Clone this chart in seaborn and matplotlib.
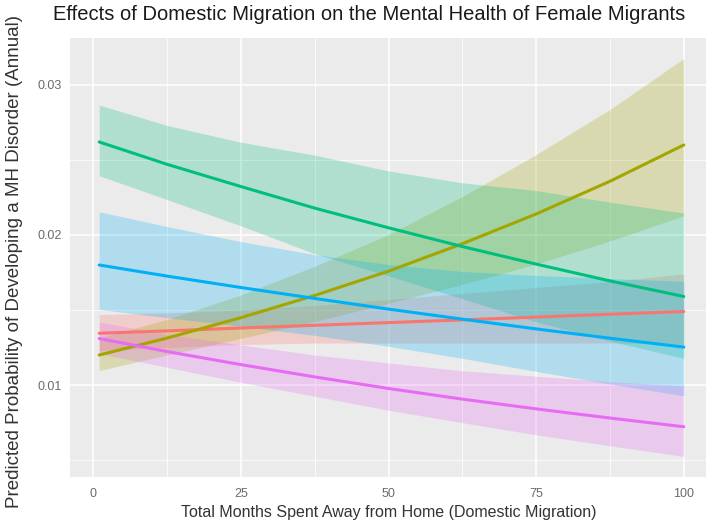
import numpy as np
import pandas as pd
import matplotlib
matplotlib.use("Agg")
import matplotlib.pyplot as plt
import seaborn as sns
from matplotlib.ticker import MultipleLocator

# Months away from home at which predictions are evaluated
months = [1, 12.5, 25, 37.5, 50, 62.5, 75, 87.5, 100]

# Predicted probability (line) with lower/upper confidence bounds per group
groups = ["1", "2", "3", "4", "5"]
colors = ["#F8766D", "#A3A500", "#00BF7D", "#00B0F6", "#E76BF3"]

pred_1 = [0.01345, 0.01361, 0.0138, 0.01398, 0.01416, 0.01434, 0.01453, 0.01472, 0.0149]
lo_1 = [0.0123, 0.0125, 0.0127, 0.0128, 0.0128, 0.0128, 0.0128, 0.0128, 0.0127]
hi_1 = [0.0147, 0.0148, 0.0150, 0.0153, 0.0157, 0.0161, 0.0165, 0.0169, 0.0174]

pred_2 = [0.0120, 0.01313, 0.01449, 0.01597, 0.01759, 0.01942, 0.0214, 0.02358, 0.0260]
lo_2 = [0.01097, 0.0120, 0.01311, 0.01423, 0.01545, 0.01671, 0.01806, 0.0196, 0.02129]
hi_2 = [0.01313, 0.01437, 0.01601, 0.01792, 0.02003, 0.02256, 0.02536, 0.02837, 0.03176]

pred_3 = [0.0262, 0.02471, 0.02323, 0.02179, 0.02048, 0.01923, 0.01806, 0.01694, 0.0159]
lo_3 = [0.02395, 0.02236, 0.02061, 0.01875, 0.01728, 0.01575, 0.01421, 0.01293, 0.01178]
hi_3 = [0.02866, 0.0273, 0.02618, 0.02532, 0.02427, 0.02348, 0.02296, 0.02219, 0.02146]

pred_4 = [0.0180, 0.01726, 0.0165, 0.01577, 0.01506, 0.01439, 0.01374, 0.01312, 0.01253]
lo_4 = [0.01504, 0.01449, 0.01392, 0.01331, 0.01258, 0.01178, 0.01091, 0.01007, 0.00928]
hi_4 = [0.02155, 0.02056, 0.01956, 0.01869, 0.01803, 0.01757, 0.0173, 0.0171, 0.01691]

pred_5 = [0.0131, 0.01223, 0.01136, 0.01054, 0.00977, 0.00906, 0.00841, 0.0078, 0.00722]
lo_5 = [0.01209, 0.01118, 0.01018, 0.00925, 0.00832, 0.00749, 0.00668, 0.00595, 0.00524]
hi_5 = [0.01419, 0.01338, 0.01268, 0.0120, 0.01147, 0.01095, 0.01059, 0.01022, 0.00994]

preds = [pred_1, pred_2, pred_3, pred_4, pred_5]
los = [lo_1, lo_2, lo_3, lo_4, lo_5]
his = [hi_1, hi_2, hi_3, hi_4, hi_5]

xticks = [0, 25, 50, 75, 100]
yticks = [0.01, 0.02, 0.03]

rows = []
for g, p, lo, hi in zip(groups, preds, los, his):
    for m, pv, lv, hv in zip(months, p, lo, hi):
        rows.append({"months": m, "prob": pv, "lo": lv, "hi": hv, "group": g})
df = pd.DataFrame(rows)

sns.set_theme(style="darkgrid", rc={
    "axes.facecolor": "#EBEBEB",
    "grid.color": "white",
})
plt.rcParams["font.family"] = ["Liberation Sans", "DejaVu Sans"]

fig = plt.figure(figsize=(7.06, 5.32), dpi=100)
ax = fig.add_axes([70 / 706, 1 - 477 / 532, 643 / 706, 439 / 532])

palette = dict(zip(groups, colors))

# confidence ribbons first, then the fitted lines on top
for g in groups:
    sub = df[df["group"] == g]
    ax.fill_between(sub["months"], sub["lo"], sub["hi"],
                    color=palette[g], alpha=0.25, linewidth=0)

sns.lineplot(data=df, x="months", y="prob", hue="group", palette=palette,
             linewidth=2.2, legend=False, ax=ax, sort=True)

ax.set_xlim(-3.95, 104.95)
ax.set_ylim(0.00387, 0.03313)
ax.set_xticks(xticks)
ax.set_yticks(yticks)
ax.set_xticklabels([str(t) for t in xticks])
ax.set_yticklabels([f"{t:.2f}" for t in yticks])
ax.xaxis.set_minor_locator(MultipleLocator(12.5))
ax.yaxis.set_minor_locator(MultipleLocator(0.005))
ax.grid(which="major", color="white", linewidth=1.1)
ax.grid(which="minor", color="white", linewidth=0.55)
for s in ax.spines.values():
    s.set_visible(False)

ax.tick_params(axis="both", which="major", length=3, width=0.8,
               color="#555555", labelcolor="#6b6b6b", labelsize=9, pad=3)
ax.tick_params(axis="x", which="major", pad=5)
ax.tick_params(axis="both", which="minor", length=0)

ax.set_xlabel("Total Months Spent Away from Home (Domestic Migration)",
              fontsize=11.5, color="#333333")
ax.set_ylabel("Predicted Probability of Developing a MH Disorder (Annual)",
              fontsize=13.5, color="#333333")
ax.xaxis.set_label_coords((389 - 70) / 643, -(505 - 477) / 439)
ax.yaxis.set_label_coords(-(70 - 23) / 643, (477 - 261) / 439)

fig.text(369 / 706, 1 - 14 / 532,
         "Effects of Domestic Migration on the Mental Health of Female Migrants",
         ha="center", va="center", fontsize=14.5, color="#1a1a1a")

fig.savefig("out.png", dpi=100)
